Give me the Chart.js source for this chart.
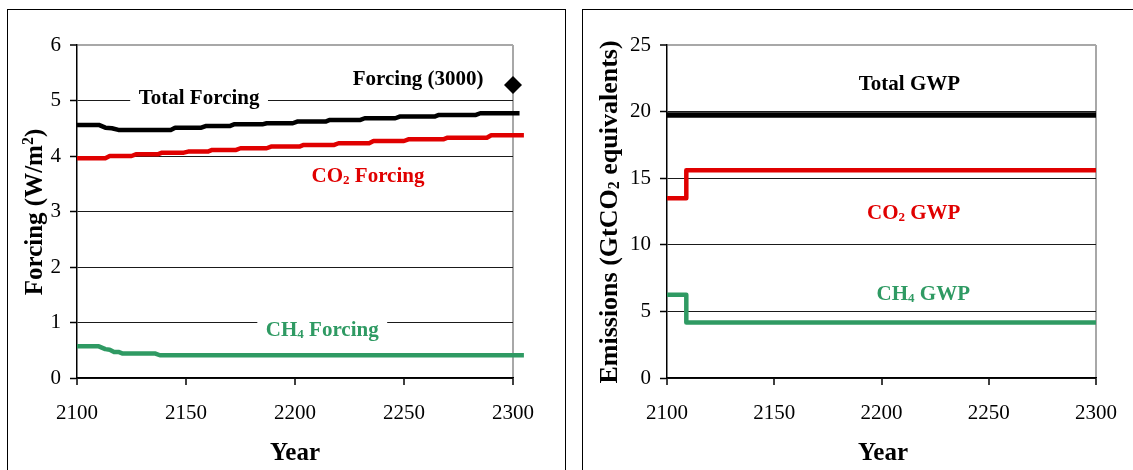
<!DOCTYPE html>
<html lang="en">
<head>
  <meta charset="UTF-8">
  <title>Forcing and GWP</title>
  <script src="https://cdn.jsdelivr.net/npm/chart.js"></script>
  <style>
    body {
      margin: 0;
      background: #fff;
      width: 1133px;
      height: 470px;
      overflow: hidden;
      position: relative;
    }
    .frame {
      position: absolute;
      top: 9px;
      height: 480px;
      border: 1px solid #000;
      box-sizing: border-box;
    }
    canvas {
      position: absolute;
      top: 0;
    }
  </style>
</head>
<body>

  <div class="frame" style="left:7px; width:559px;"></div>
  <div class="frame" style="left:582px; width:600px;"></div>

  <canvas id="forcingChart" width="566" height="470" style="left:0"></canvas>
  <canvas id="gwpChart" width="563" height="470" style="left:570px"></canvas>

  <script>
    // Left panel: forcing (W/m2)
    const totalYears   = [2100, 2110, 2113, 2116, 2119, 2143, 2145, 2157, 2159, 2170, 2172, 2185, 2187, 2199, 2201, 2214, 2216, 2230, 2232, 2246, 2248, 2264, 2266, 2283, 2285, 2303, 2305];
    const totalForcing = [4.56, 4.56, 4.51, 4.50, 4.47, 4.47, 4.51, 4.51, 4.54, 4.54, 4.57, 4.57, 4.59, 4.59, 4.62, 4.62, 4.65, 4.65, 4.68, 4.68, 4.71, 4.71, 4.74, 4.74, 4.77, 4.77, 4.80];

    const co2Years   = [2100, 2113, 2115, 2125, 2127, 2137, 2139, 2149, 2151, 2160, 2162, 2173, 2175, 2187, 2189, 2202, 2204, 2218, 2220, 2234, 2236, 2250, 2252, 2268, 2270, 2288, 2290, 2305];
    const co2Forcing = [3.96, 3.96, 4.00, 4.00, 4.03, 4.03, 4.06, 4.06, 4.08, 4.08, 4.11, 4.11, 4.14, 4.14, 4.17, 4.17, 4.20, 4.20, 4.23, 4.23, 4.27, 4.27, 4.30, 4.30, 4.33, 4.33, 4.375, 4.375];

    const ch4Years   = [2100, 2110, 2113, 2115, 2117, 2119, 2121, 2123, 2136, 2138, 2305];
    const ch4Forcing = [0.57, 0.57, 0.52, 0.51, 0.47, 0.47, 0.44, 0.44, 0.44, 0.41, 0.41];

    const forcing3000 = [2300, 5.28];

    // Right panel: emissions (GtCO2 equivalents)
    const gwpYears = [2100, 2109, 2300];
    const totalGwp = [19.75, 19.75, 19.75];
    const co2Gwp   = [13.5, 15.6, 15.6];
    const ch4Gwp   = [6.25, 4.17, 4.17];

    const xTicks = [2100, 2150, 2200, 2250, 2300];

    const BLACK = '#000000';
    const RED = '#e00000';
    const GREEN = '#2f9a63';
    const SERIF = '"Liberation Serif", "Times New Roman", serif';

    Chart.defaults.font.family = SERIF;

    function pts(xs, ys) {
      return xs.map((x, i) => ({ x: x, y: ys[i] }));
    }

    // text with sub / superscript parts: [['CO'], ['2', 'sub'], [' Forcing']]
    function richWidth(ctx, parts, size) {
      let w = 0;
      parts.forEach(p => {
        ctx.font = `bold ${p[1] ? Math.round(size * 0.62) : size}px ${SERIF}`;
        w += ctx.measureText(p[0]).width;
      });
      return w;
    }

    function drawRich(ctx, parts, cx, cy, size) {
      const w = richWidth(ctx, parts, size);
      let x = cx - w / 2;
      const base = cy + size * 0.33;
      parts.forEach(p => {
        ctx.font = `bold ${p[1] ? Math.round(size * 0.62) : size}px ${SERIF}`;
        let dy = 0;
        if (p[1] === 'sub') dy = size * 0.1;
        if (p[1] === 'sup') dy = -size * 0.36;
        ctx.fillText(p[0], x, base + dy);
        x += ctx.measureText(p[0]).width;
      });
      return w;
    }

    const textLabels = {
      id: 'textLabels',
      beforeDatasetsDraw(chart, args, opts) {
        const ctx = chart.ctx;
        const xs = chart.scales.x, ys = chart.scales.y;
        ctx.save();
        ctx.textAlign = 'left';
        ctx.textBaseline = 'alphabetic';
        (opts.items || []).forEach(it => {
          const cx = xs.getPixelForValue(it.at[0]);
          const cy = ys.getPixelForValue(it.at[1]);
          if (it.box) {
            const w = richWidth(ctx, it.parts, opts.size);
            ctx.fillStyle = '#fff';
            ctx.fillRect(cx - w / 2 - 8.5, cy - 14, w + 17, 28);
          }
          ctx.fillStyle = it.color;
          drawRich(ctx, it.parts, cx, cy, opts.size);
        });
        ctx.restore();
      },
      afterDraw(chart, args, opts) {
        const ctx = chart.ctx;
        ctx.save();
        ctx.textAlign = 'left';
        ctx.textBaseline = 'alphabetic';
        ctx.fillStyle = '#000';
        (opts.titles || []).forEach(t => {
          ctx.save();
          ctx.translate(t.pos[0], t.pos[1]);
          if (t.rotate) ctx.rotate(-Math.PI / 2);
          drawRich(ctx, t.parts, 0, 0, t.size);
          ctx.restore();
        });
        ctx.restore();
      }
    };

    function baseOptions(yMax, yStep, padRight, yWidth) {
      return {
        responsive: false,
        animation: false,
        layout: { padding: { top: 45, right: padRight, left: 0, bottom: 0 } },
        plugins: { legend: { display: false }, tooltip: { enabled: false } },
        scales: {
          x: {
            type: 'linear',
            min: 2100,
            max: 2300,
            afterBuildTicks: s => { s.ticks = xTicks.map(v => ({ value: v })); },
            afterFit: s => { s.height = 92; },
            border: { color: '#000', width: 1.5 },
            grid: {
              color: c => c.tick && c.tick.value === 2300 ? '#a8a8a8' : 'rgba(0,0,0,0)',
              lineWidth: 2,
              tickColor: '#000',
              tickWidth: 1.5,
              tickLength: 7
            },
            ticks: {
              color: '#000',
              padding: 16,
              maxRotation: 0,
              font: { family: SERIF, size: 21 },
              callback: v => String(v)
            }
          },
          y: {
            min: 0,
            max: yMax,
            afterFit: s => { s.width = yWidth; },
            border: { color: '#000', width: 1.5 },
            grid: {
              color: c => c.tick && c.tick.value === yMax ? '#a8a8a8' : '#1a1a1a',
              lineWidth: c => c.tick && c.tick.value === yMax ? 2 : 1,
              tickColor: '#000',
              tickWidth: 1.5,
              tickLength: 7
            },
            ticks: {
              stepSize: yStep,
              color: '#000',
              padding: 9,
              font: { family: SERIF, size: 21 }
            }
          }
        }
      };
    }

    function lineSet(data, color, width) {
      return {
        data: data,
        showLine: true,
        borderColor: color,
        backgroundColor: color,
        borderWidth: width,
        pointRadius: 0,
        borderCapStyle: 'butt',
        borderJoinStyle: 'round',
        clip: false
      };
    }

    // ---- left chart ----
    const leftOpts = baseOptions(6, 1, 53, 77);
    leftOpts.plugins.textLabels = {
      size: 21,
      items: [
        { parts: [['Total Forcing']], at: [2156, 5.06], color: BLACK, box: true },
        { parts: [['Forcing (3000)']], at: [2256.5, 5.41], color: BLACK },
        { parts: [['CO'], ['2', 'sub'], [' Forcing']], at: [2233.5, 3.66], color: RED, box: true },
        { parts: [['CH'], ['4', 'sub'], [' Forcing']], at: [2212.5, 0.88], color: GREEN, box: true }
      ],
      titles: [
        { parts: [['Year']], pos: [295, 452], size: 25 },
        { parts: [['Forcing (W/m'], ['2', 'sup'], [')']], pos: [34, 212], size: 25, rotate: true }
      ]
    };

    new Chart(document.getElementById('forcingChart'), {
      type: 'scatter',
      data: {
        datasets: [
          lineSet(pts(ch4Years, ch4Forcing), GREEN, 4.5),
          lineSet(pts(co2Years, co2Forcing), RED, 4.5),
          lineSet(pts(totalYears, totalForcing), BLACK, 4.5),
          {
            data: [{ x: forcing3000[0], y: forcing3000[1] }],
            pointStyle: 'rectRot',
            pointRadius: 9,
            backgroundColor: BLACK,
            borderColor: BLACK,
            borderWidth: 0,
            clip: false
          }
        ]
      },
      options: leftOpts,
      plugins: [textLabels]
    });

    // ---- right chart ----
    const rightOpts = baseOptions(25, 5, 34, 97);
    rightOpts.plugins.textLabels = {
      size: 21,
      items: [
        { parts: [['Total GWP']], at: [2213, 22.15], color: BLACK },
        { parts: [['CO'], ['2', 'sub'], [' GWP']], at: [2215, 12.48], color: RED },
        { parts: [['CH'], ['4', 'sub'], [' GWP']], at: [2219.5, 6.4], color: GREEN, box: true }
      ],
      titles: [
        { parts: [['Year']], pos: [313, 452], size: 25 },
        { parts: [['Emissions (GtCO'], ['2', 'sub'], [' equivalents)']], pos: [38, 212], size: 26, rotate: true }
      ]
    };

    // value holds until the next year, then jumps
    const stepSet = (data, color, width) => Object.assign(lineSet(data, color, width), { stepped: 'before' });

    new Chart(document.getElementById('gwpChart'), {
      type: 'scatter',
      data: {
        datasets: [
          stepSet(pts(gwpYears, ch4Gwp), GREEN, 4.5),
          stepSet(pts(gwpYears, co2Gwp), RED, 4.5),
          stepSet(pts(gwpYears, totalGwp), BLACK, 5.5)
        ]
      },
      options: rightOpts,
      plugins: [textLabels]
    });
  </script>
</body>
</html>
